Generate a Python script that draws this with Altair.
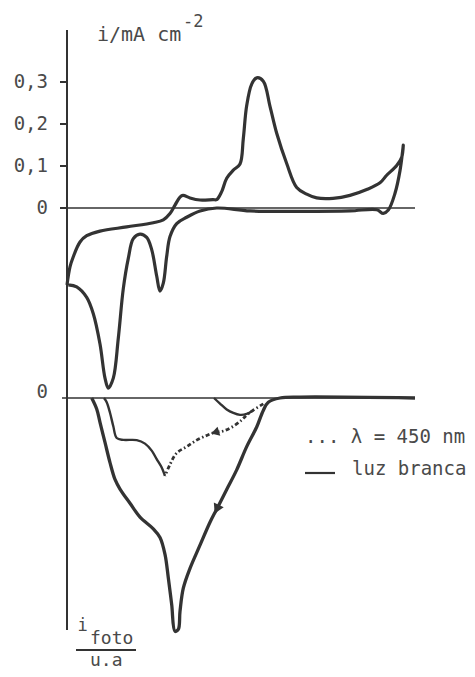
import altair as alt
import pandas as pd

# ---------------- data ----------------
# Top: cyclic voltammogram, potential in arbitrary units, i in mA cm^-2
cv_E = [0, 3, 6.3, 13, 19.7, 33, 59.7, 86.3, 96.3, 103, 108, 113, 116, 123, 133,
        146, 149.7, 154.7, 159.7, 166.3, 173, 176.3, 179.7, 184.7, 189.7, 196.3,
        203, 209.7, 219.7, 229.7, 239.7, 249.7, 266, 283, 299.7, 313, 319.7,
        329.7, 334.7, 336.3,
        333, 328, 321.3, 316.3, 309.7, 283, 233, 183, 149.7, 133, 119.7, 109.7,
        103, 99.7, 96.3, 93, 89.7, 84.7, 79.7, 73, 66.3, 61.3, 56.3, 51.3, 46.3,
        41.3, 38, 33, 26.3, 19.7, 9.7, 1.3]
cv_i = [-0.183, -0.140, -0.116, -0.081, -0.066, -0.055, -0.045, -0.035, -0.028,
        -0.013, 0.007, 0.026, 0.030, 0.024, 0.019, 0.020, 0.020, 0.039, 0.071,
        0.090, 0.105, 0.165, 0.244, 0.295, 0.310, 0.302, 0.242, 0.178, 0.106,
        0.049, 0.033, 0.024, 0.023, 0.030, 0.044, 0.060, 0.078, 0.101, 0.121,
        0.150,
        0.089, 0.035, -0.005, -0.013, -0.004, -0.007, -0.008, -0.007, 0.000,
        -0.007, -0.022, -0.037, -0.068, -0.115, -0.179, -0.198, -0.162, -0.099,
        -0.070, -0.062, -0.073, -0.120, -0.192, -0.310, -0.405, -0.429, -0.405,
        -0.324, -0.252, -0.213, -0.188, -0.183]

# Bottom: photocurrent (u.a.), white light
white_E = [24.7, 29.7, 33, 38, 43, 48, 53, 63, 73, 86.3, 93, 98, 101.3, 104.7,
           108, 111.3, 113, 116.3, 123, 133, 143, 149.7, 159.7, 169.7, 179.7,
           189.7, 196.3, 201.3, 213, 233, 348]
white_i = [0.0, -0.047, -0.104, -0.190, -0.276, -0.348, -0.389, -0.450, -0.509,
           -0.559, -0.596, -0.668, -0.768, -0.883, -0.997, -0.989, -0.912,
           -0.813, -0.728, -0.629, -0.531, -0.475, -0.391, -0.307, -0.208,
           -0.124, -0.053, -0.018, 0.0, 0.004, 0.0]

# lambda = 450 nm, dotted return branch
blue_E = [196.3, 186.3, 179.7, 174.7, 166.3, 156.3, 148, 139.7, 129.7, 119.7,
          109.7, 103, 98]
blue_i = [-0.025, -0.052, -0.073, -0.094, -0.121, -0.141, -0.147, -0.160,
          -0.180, -0.208, -0.235, -0.284, -0.333]
# lambda = 450 nm, solid part
tail_E = [98, 94.7, 89.7, 84.7, 78, 69.7, 56.3, 49.7, 46.3, 43, 39.7, 37]
tail_i = [-0.333, -0.297, -0.261, -0.225, -0.195, -0.180, -0.179, -0.171,
          -0.121, -0.063, -0.018, 0.0]
dip_E = [147, 153, 159.7, 166.3, 173, 179.7, 186.3]
dip_i = [0.0, -0.024, -0.049, -0.064, -0.072, -0.068, -0.052]

# direction arrows (white light branch, 450 nm branch)
arrow_E = [149.7, 148]
arrow_i = [-0.475, -0.147]

tick_vals = [0.3, 0.2, 0.1, 0.0]
tick_text = ["0,3", "0,2", "0,1", "0"]

# ---------------- chart ----------------
INK = "#333333"
TXT = "#4a4a4a"
FONT = "DejaVu Sans Mono"

x_sc = alt.Scale(domain=[0, 348], nice=False, zero=False)
yt_sc = alt.Scale(domain=[-1.0286, 0.4429], nice=False, zero=False)
yb_sc = alt.Scale(domain=[-1.0342, 1.6068], nice=False, zero=False)

X = alt.X("E:Q", scale=x_sc, axis=None)
YT = alt.Y("i:Q", scale=yt_sc, axis=None)
YB = alt.Y("i:Q", scale=yb_sc, axis=None)


def df(E, i):
    return pd.DataFrame({"E": E, "i": i, "k": list(range(len(E)))})


one = pd.DataFrame({"a": [0]})

# ---- top panel ----
cv = alt.Chart(df(cv_E, cv_i)).mark_line(
    color=INK, strokeWidth=3.2, interpolate="catmull-rom"
).encode(x=X, y=YT, order="k:Q")

tick_df = pd.DataFrame({"v": tick_vals, "t": tick_text})
zero_top = alt.Chart(pd.DataFrame({"v": [0.0]})).mark_rule(
    color=INK, strokeWidth=1.6
).encode(x=alt.value(-5), x2=alt.value(348), y=alt.Y("v:Q", scale=yt_sc, axis=None))
ticks = alt.Chart(tick_df).mark_rule(color=INK, strokeWidth=2).encode(
    x=alt.value(-7), x2=alt.value(0), y=alt.Y("v:Q", scale=yt_sc, axis=None))
tick_lbl = alt.Chart(tick_df).mark_text(
    align="right", baseline="middle", font=FONT, fontSize=19, color=TXT
).encode(x=alt.value(-19), y=alt.Y("v:Q", scale=yt_sc, axis=None), text="t:N")
axis_line = alt.Chart(one).mark_rule(color=INK, strokeWidth=2).encode(
    x=alt.value(0), y=alt.value(8), y2=alt.value(608))
title_main = alt.Chart(pd.DataFrame({"t": ["i/mA cm"]})).mark_text(
    align="left", baseline="middle", font=FONT, fontSize=20, color=TXT
).encode(x=alt.value(30), y=alt.value(13), text="t:N")
title_sup = alt.Chart(pd.DataFrame({"t": ["-2"]})).mark_text(
    align="left", baseline="middle", font=FONT, fontSize=17, color=TXT
).encode(x=alt.value(116), y=alt.value(0), text="t:N")

top = alt.layer(axis_line, zero_top, ticks, tick_lbl, cv, title_main, title_sup)

# ---- bottom panel ----
zero_bot = alt.Chart(pd.DataFrame({"v": [0.0]})).mark_rule(
    color=INK, strokeWidth=1.6
).encode(x=alt.value(-5), x2=alt.value(348), y=alt.Y("v:Q", scale=yb_sc, axis=None))
zero_lbl = alt.Chart(pd.DataFrame({"v": [0.0], "t": ["0"]})).mark_text(
    align="right", baseline="middle", font=FONT, fontSize=19, color=TXT, dy=-6
).encode(x=alt.value(-19), y=alt.Y("v:Q", scale=yb_sc, axis=None), text="t:N")
white = alt.Chart(df(white_E, white_i)).mark_line(
    color=INK, strokeWidth=3.3, interpolate="catmull-rom"
).encode(x=X, y=YB, order="k:Q")
blue = alt.Chart(df(blue_E, blue_i)).mark_line(
    color=INK, strokeWidth=2.8, strokeDash=[4, 2.5, 1.5, 2.5], interpolate="catmull-rom"
).encode(x=X, y=YB, order="k:Q")
tail = alt.Chart(df(tail_E, tail_i)).mark_line(
    color=INK, strokeWidth=2.4, interpolate="catmull-rom"
).encode(x=X, y=YB, order="k:Q")
dip = alt.Chart(df(dip_E, dip_i)).mark_line(
    color=INK, strokeWidth=2.4, interpolate="catmull-rom"
).encode(x=X, y=YB, order="k:Q")
arrow_w = alt.Chart(df(arrow_E[:1], arrow_i[:1])).mark_point(
    shape="triangle-down", angle=26, size=120, filled=True, color=INK, opacity=1
).encode(x=X, y=YB)
arrow_b = alt.Chart(df(arrow_E[1:], arrow_i[1:])).mark_point(
    shape="triangle-left", angle=343, size=90, filled=True, color=INK, opacity=1
).encode(x=X, y=YB)

leg1 = alt.Chart(pd.DataFrame({"t": ["... λ = 450 nm"]})).mark_text(
    align="left", baseline="middle", font=FONT, fontSize=19, color=TXT
).encode(x=alt.value(238), y=alt.value(415), text="t:N")
leg2 = alt.Chart(pd.DataFrame({"t": ["luz branca"]})).mark_text(
    align="left", baseline="middle", font=FONT, fontSize=19, color=TXT
).encode(x=alt.value(285), y=alt.value(447), text="t:N")
leg_dash = alt.Chart(one).mark_rule(color=INK, strokeWidth=2.2).encode(
    x=alt.value(238), x2=alt.value(268), y=alt.value(451))

lbl_i = alt.Chart(pd.DataFrame({"t": ["i"]})).mark_text(
    align="center", baseline="middle", font=FONT, fontSize=17, color=TXT
).encode(x=alt.value(15.5), y=alt.value(604), text="t:N")
lbl_foto = alt.Chart(pd.DataFrame({"t": ["foto"]})).mark_text(
    align="left", baseline="middle", font=FONT, fontSize=18, color=TXT
).encode(x=alt.value(23), y=alt.value(617), text="t:N")
lbl_bar = alt.Chart(one).mark_rule(color=INK, strokeWidth=2).encode(
    x=alt.value(9), x2=alt.value(69), y=alt.value(628))
lbl_ua = alt.Chart(pd.DataFrame({"t": ["u.a"]})).mark_text(
    align="left", baseline="middle", font=FONT, fontSize=18, color=TXT
).encode(x=alt.value(23), y=alt.value(639), text="t:N")

bottom = alt.layer(zero_bot, zero_lbl, dip, tail, blue, white, arrow_w, arrow_b,
                   leg1, leg2, leg_dash, lbl_i, lbl_foto, lbl_bar, lbl_ua)

chart = alt.layer(top, bottom).resolve_scale(y="independent").properties(
    width=348,
    height=618,
    padding={"left": 59, "top": 14, "right": 52, "bottom": 29},
    autosize=alt.AutoSizeParams(type="none"),
    background="white",
).configure_view(stroke=None)

chart.save("out.html", embed_options={"renderer": "svg", "actions": False})
